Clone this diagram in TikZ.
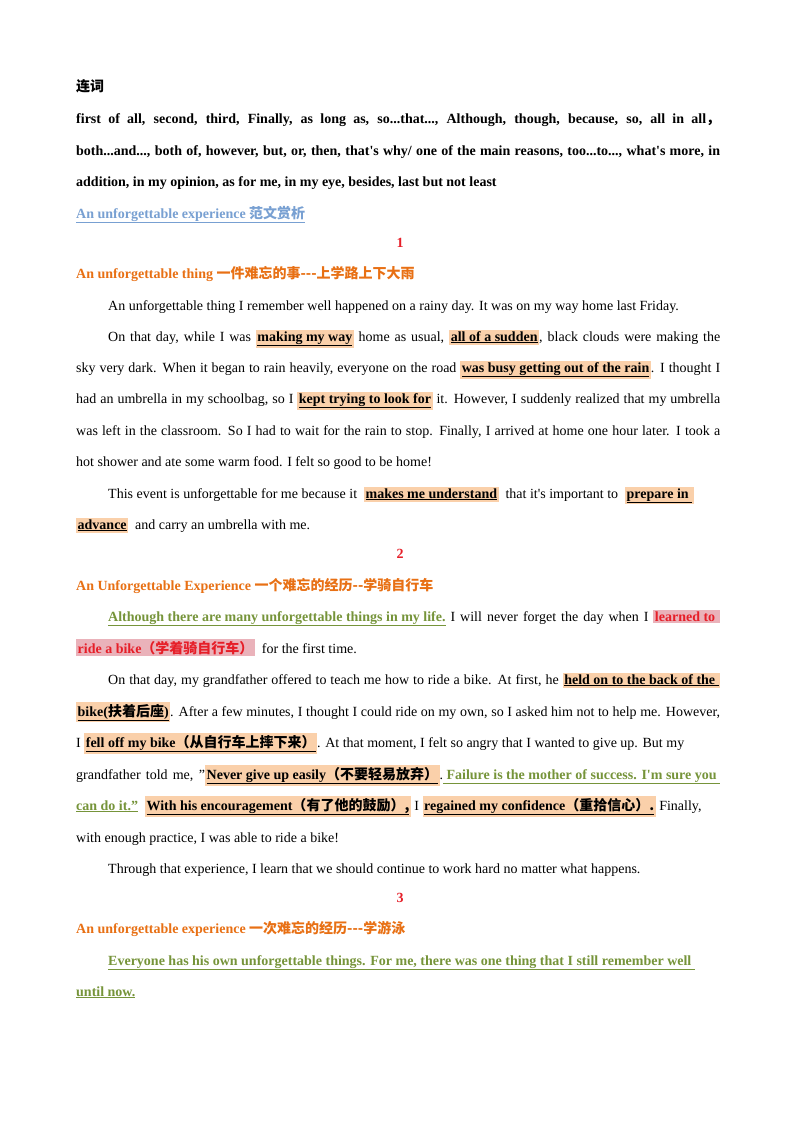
\documentclass[tikz,border=0pt]{standalone}
\usepackage{fontspec}
\setmainfont{Liberation Serif}
\newfontfamily\cjkf{Noto Sans CJK SC}
\definecolor{hlo}{RGB}{250,208,170}
\definecolor{hlr}{RGB}{234,178,186}
\definecolor{grn}{RGB}{118,148,58}
\definecolor{org}{RGB}{232,112,20}
\definecolor{lnk}{RGB}{120,160,210}
\definecolor{rdn}{RGB}{230,30,40}
\newcommand{\C}[1]{{\cjkf #1}}
\newcommand{\q}{\textquotesingle}
\newcommand{\dq}{\symbol{34}}
\newcommand{\myhl}[1]{{\setlength{\fboxsep}{1.5pt}\colorbox{hlo}{\underline{\textbf{#1}}}}}
\newcommand{\myrh}[1]{{\setlength{\fboxsep}{1.5pt}\colorbox{hlr}{\textcolor{rdn}{\textbf{#1}}}}}
\newcommand{\mygr}[1]{\textcolor{grn}{\underline{\textbf{#1}}}}
\newcommand{\full}[1]{\makebox[644pt][s]{#1}}
\newcommand{\fulli}[1]{\makebox[612pt][s]{#1}}
\begin{document}
\begin{tikzpicture}[x=1pt,y=-1pt,
  txt/.style={anchor=base west,inner sep=0pt,font=\fontsize{14}{16}\selectfont},
  ctr/.style={anchor=base,inner sep=0pt,font=\fontsize{14}{16}\selectfont\bfseries,text=rdn}]
\useasboundingbox (0,0) rectangle (800,1132);
\fill[white] (0,0) rectangle (800,1132);
\node[txt] (l1) at (76,92) {\textbf{\C{连词}}};
\node[txt] (l2) at (76,123) {\bfseries\full{first of all, second, third, Finally, as long as, so...that..., Although, though, because, so, all in all\C{，}}};
\node[txt] (l3) at (76,155) {\bfseries\full{both...and..., both of, however, but, or, then, that\q s why/ one of the main reasons, too...to..., what\q s more, in}};
\node[txt] (l4) at (76,186) {\bfseries addition, in my opinion, as for me, in my eye, besides, last but not least};
\node[txt,text=lnk] (l5) at (76,218) {\underline{\textbf{An unforgettable experience \C{范文赏析}}}};
\node[ctr] (n1) at (400,247) {1};
\node[txt,text=org] (l6) at (76,278) {\bfseries An unforgettable thing \C{一件难忘的事---上学路上下大雨}};
\node[txt] (l7) at (108,310) {An unforgettable thing I remember well happened on a rainy day. It was on my way home last Friday.};
\node[txt] (l8) at (108,341) {\fulli{On that day, while I was \myhl{making my way} home as usual, \myhl{all of a sudden}, black clouds were making the}};
\node[txt] (l9) at (76,372) {\full{sky very dark. When it began to rain heavily, everyone on the road \myhl{was busy getting out of the rain}. I thought I}};
\node[txt] (l10) at (76,403) {\full{had an umbrella in my schoolbag, so I \myhl{kept trying to look for} it. However, I suddenly realized that my umbrella}};
\node[txt] (l11) at (76,435) {\full{was left in the classroom. So I had to wait for the rain to stop. Finally, I arrived at home one hour later. I took a}};
\node[txt] (l12) at (76,466) {hot shower and ate some warm food. I felt so good to be home!};
\node[txt] (l13) at (108,498) {This event is unforgettable for me because it \ \myhl{makes me understand} \ that it\q s important to \ \myhl{prepare in\ }};
\node[txt] (l14) at (76,529) {\myhl{advance} \ and carry an umbrella with me.};
\node[ctr] (n2) at (400,558) {2};
\node[txt,text=org] (l15) at (76,590) {\bfseries An Unforgettable Experience \C{一个难忘的经历--学骑自行车}};
\node[txt] (l16) at (108,621) {\fulli{\mygr{Although there are many unforgettable things in my life.} I will never forget the day when I \myrh{learned to\ }}};
\node[txt] (l17) at (76,653) {\myrh{ride a bike\C{（学着骑自行车）}} \ for the first time.};
\node[txt] (l18) at (108,684) {\fulli{On that day, my grandfather offered to teach me how to ride a bike. At first, he \myhl{held on to the back of the\ }}};
\node[txt] (l19) at (76,716) {\full{\myhl{bike(\C{扶着后座})}. After a few minutes, I thought I could ride on my own, so I asked him not to help me. However,}};
\node[txt] (l20) at (76,747) {I \myhl{fell off my bike\C{（从自行车上摔下来）}}. At that moment, I felt so angry that I wanted to give up. But my};
\node[txt] (l21) at (76,779) {\full{grandfather told me, \dq\myhl{Never give up easily\C{（不要轻易放弃）}}.\mygr{ Failure is the mother of success. I\q m sure you\ }}};
\node[txt] (l22) at (76,810) {\mygr{can do it.\dq} \ \myhl{With his encouragement\C{（有了他的鼓励）,}} I \myhl{regained my confidence\C{（重拾信心）.}} Finally,};
\node[txt] (l23) at (76,842) {with enough practice, I was able to ride a bike!};
\node[txt] (l24) at (108,873) {Through that experience, I learn that we should continue to work hard no matter what happens.};
\node[ctr] (n3) at (400,902) {3};
\node[txt,text=org] (l25) at (76,933) {\bfseries An unforgettable experience \C{一次难忘的经历---学游泳}};
\node[txt] (l26) at (108,965) {\mygr{Everyone has his own unforgettable things. For me, there was one thing that I still remember well\ }};
\node[txt] (l27) at (76,996) {\mygr{until now.}};
\end{tikzpicture}
\end{document}
